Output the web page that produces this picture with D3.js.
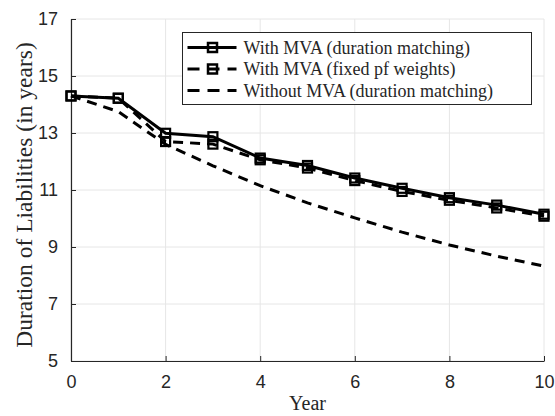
<!DOCTYPE html>
<html lang="en">
<head>
<meta charset="UTF-8">
<title>Duration of Liabilities</title>
<script src="https://cdn.jsdelivr.net/npm/d3@7"></script>
<style>
    body{ margin:0; background:#fff; }
    svg{ display:block; }
    .tick text{ font-family:"Liberation Sans", Arial, sans-serif; font-size:18px; fill:#262626; }
    .serif{ font-family:"Liberation Serif", "Times New Roman", serif; fill:#262626; }
</style>
</head>
<body>
<script>
    // data
    const years = [0,1,2,3,4,5,6,7,8,9,10];
    const mvaDuration = [14.3,14.22,12.99,12.87,12.12,11.86,11.42,11.06,10.73,10.47,10.15];
    const mvaFixed    = [14.3,14.22,12.7,12.61,12.06,11.77,11.33,10.95,10.64,10.37,10.08];
    const noMva       = [14.3,13.75,12.6,11.85,11.15,10.55,10.02,9.52,9.07,8.68,8.33];
    const yTicks = [5,7,9,11,13,15,17];
    const xTicks = [0,2,4,6,8,10];
    const seriesNames = ["With MVA (duration matching)","With MVA (fixed pf weights)","Without MVA (duration matching)"];

    const width = 555, height = 416;
    const margin = {top:19, right:11, bottom:55, left:71};

    const svg = d3.select("body").append("svg")
        .attr("width", width).attr("height", height);

    const x = d3.scaleLinear().domain([0,10]).range([margin.left, width-margin.right]);
    const y = d3.scaleLinear().domain([5,17]).range([height-margin.bottom, margin.top]);

    // grid
    const grid = svg.append("g").attr("stroke","#e6e6e6").attr("stroke-width",1);
    grid.selectAll(".gx").data(xTicks).enter().append("line")
        .attr("x1",d=>x(d)).attr("x2",d=>x(d))
        .attr("y1",y(5)).attr("y2",y(17));
    grid.selectAll(".gy").data(yTicks).enter().append("line")
        .attr("x1",x(0)).attr("x2",x(10))
        .attr("y1",d=>y(d)).attr("y2",d=>y(d));

    // axes
    const xAxis = d3.axisBottom(x).tickValues(xTicks).tickSizeInner(-5).tickSizeOuter(0).tickPadding(14);
    const yAxis = d3.axisLeft(y).tickValues(yTicks).tickSizeInner(-5).tickSizeOuter(0).tickPadding(13);
    const gx = svg.append("g").attr("transform",`translate(0,${y(5)})`).call(xAxis);
    const gy = svg.append("g").attr("transform",`translate(${x(0)},0)`).call(yAxis);
    [gx,gy].forEach(g=>{
        g.select(".domain").attr("stroke","#262626").attr("stroke-width",1.2);
        g.selectAll(".tick line").attr("stroke","#262626");
    });

    // lines
    const line = d3.line().x((d,i)=>x(years[i])).y(d=>y(d));
    const series = [
        {vals:mvaDuration, dash:null, marker:true},
        {vals:mvaFixed, dash:"10,7", marker:true},
        {vals:noMva, dash:"10,7", marker:false}
    ];
    const lines = svg.append("g");
    series.slice().reverse().forEach(s=>{
        lines.append("path").datum(s.vals)
            .attr("d",line)
            .attr("fill","none").attr("stroke","#000").attr("stroke-width",3)
            .attr("stroke-dasharray",s.dash);
        if(s.marker){
            lines.selectAll(null).data(s.vals).enter().append("rect")
                .attr("x",(d,i)=>x(years[i])-4.5).attr("y",d=>y(d)-4.5)
                .attr("width",9).attr("height",9)
                .attr("fill","none").attr("stroke","#000").attr("stroke-width",2.2);
        }
    });

    // legend
    const lg = svg.append("g").attr("transform","translate(182.5,32.5)");
    lg.append("rect").attr("width",349).attr("height",72)
        .attr("fill","#fff").attr("stroke","#262626").attr("stroke-width",1);
    const items = lg.selectAll(".item").data(series).enter().append("g")
        .attr("transform",(d,i)=>`translate(0,${15+i*21.5})`);
    items.append("line").attr("x1",5).attr("x2",54).attr("y1",0).attr("y2",0)
        .attr("stroke","#000").attr("stroke-width",3)
        .attr("stroke-dasharray",d=>d.dash ? "12,8" : null);
    items.filter(d=>d.marker).append("rect")
        .attr("x",25.5).attr("y",-4.5).attr("width",9).attr("height",9)
        .attr("fill","none").attr("stroke","#000").attr("stroke-width",2.5);
    items.append("text").attr("class","serif")
        .attr("x",61).attr("y",6).attr("font-size",18)
        .text((d,i)=>seriesNames[i]);

    // axis labels
    svg.append("text").attr("class","serif")
        .attr("font-size",20)
        .attr("text-anchor","middle")
        .attr("transform",`translate(${x(5)},${height-6})`)
        .text("Year");
    svg.append("text").attr("class","serif")
        .attr("font-size",23.5)
        .attr("text-anchor","middle")
        .attr("transform",`translate(32,${(y(5)+y(17))/2+5}) rotate(-90)`)
        .text("Duration of Liabilities (in years)");
</script>
</body>
</html>
